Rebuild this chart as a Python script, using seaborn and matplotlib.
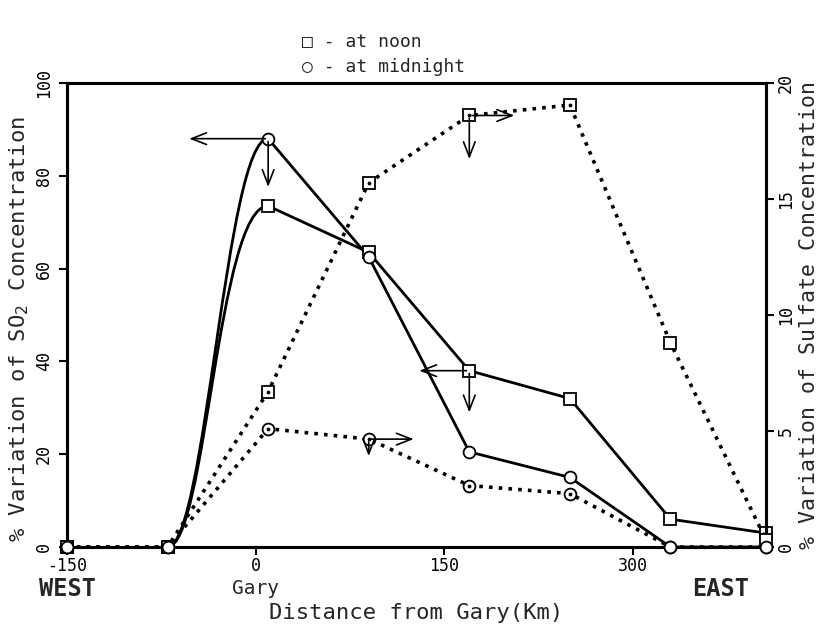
import numpy as np
import pandas as pd
import seaborn as sns
import matplotlib
matplotlib.use("Agg")
import matplotlib.pyplot as plt
from matplotlib.path import Path
from matplotlib.patches import PathPatch

# ---- data ----
distance = [-150, -70, 10, 90, 170, 250, 330, 406]
so2_noon = [0, 0, 73.5, 63.5, 38, 32, 6, 3]
so2_midnight = [0, 0, 88, 62.5, 20.5, 15, 0, 0]
sulfate_noon = [0, 0, 6.7, 15.7, 18.6, 19.05, 8.8, 0.3]
sulfate_midnight = [0, 0, 5.1, 4.65, 2.65, 2.3, 0, 0]

x_ticks = [-150, 0, 150, 300]
left_ticks = [0, 20, 40, 60, 80, 100]
right_ticks = [0, 5, 10, 15, 20]
region_labels = [("WEST", -150), ("Gary", 0), ("EAST", 370)]

sns.set_theme(style="ticks")
plt.rcParams["font.family"] = ["DejaVu Sans Mono", "DejaVu Sans"]
MONO = ["DejaVu Sans Mono", "DejaVu Sans"]

W, H = 822, 633
fig = plt.figure(figsize=(W / 100, H / 100), dpi=100)
ax = fig.add_axes([67 / W, 1 - 547 / H, (766 - 67) / W, (547 - 83) / H])
ax2 = ax.twinx()

ax.set_xlim(-150, 406)
ax.set_ylim(0, 100)
ax2.set_ylim(0, 20)

def bezier_rise(axis, xs, ys, ls, lw, b):
    x0, x1 = xs[1], xs[2]
    y0, y1 = ys[1], ys[2]
    dx = x1 - x0
    verts = [(x0, y0), (x0 + 0.38 * dx, y0), (x0 + b * dx, y1), (x1, y1)]
    codes = [Path.MOVETO, Path.CURVE4, Path.CURVE4, Path.CURVE4]
    patch = PathPatch(Path(verts, codes), facecolor="none", edgecolor="black",
                      lw=lw, linestyle=ls, clip_on=False, capstyle="round")
    axis.add_patch(patch)

def draw_series(axis, ys, marker, ls, lw, curve_b=None):
    df = pd.DataFrame({"x": distance, "y": ys})
    if curve_b is not None:
        parts = [df.iloc[0:2], df.iloc[2:]]
        bezier_rise(axis, distance, ys, ls, lw, curve_b)
    else:
        parts = [df]
    for part in parts:
        sns.lineplot(data=part, x="x", y="y", ax=axis, color="black",
                     linestyle=ls, linewidth=lw, sort=False, estimator=None,
                     clip_on=False)
    sns.lineplot(data=df, x="x", y="y", ax=axis, color="black", linestyle="",
                 marker=marker, markersize=8.5, markerfacecolor="white",
                 markeredgecolor="black", markeredgewidth=1.3,
                 sort=False, estimator=None, clip_on=False, zorder=5)

dot = (0, (1, 1.7))
draw_series(ax, so2_noon, "s", "-", 2.0, 0.5)
draw_series(ax, so2_midnight, "o", "-", 2.0, 0.58)
draw_series(ax2, sulfate_noon, "s", dot, 2.6)
draw_series(ax2, sulfate_midnight, "o", dot, 2.6)

# centre dots on the sulfate markers
for ys in (sulfate_noon, sulfate_midnight):
    sns.lineplot(x=distance[2:6], y=ys[2:6], ax=ax2, color="black", linestyle="",
                 marker="o", markersize=2, markeredgecolor="black",
                 estimator=None, sort=False, zorder=6)

# arrows showing which axis each curve belongs to
arrow_kw = dict(arrowstyle="->,head_length=0.9,head_width=0.35", color="black", lw=1.2)
def axis_arrows(axis, xp, yp, x_end, y_end):
    axis.annotate("", xy=(x_end, yp), xytext=(xp, yp), arrowprops=arrow_kw, zorder=7)
    axis.annotate("", xy=(xp, y_end), xytext=(xp, yp), arrowprops=arrow_kw, zorder=7)

axis_arrows(ax, distance[2], so2_midnight[2], -55, 77)
axis_arrows(ax, distance[4], so2_noon[4], 128, 28.4)
axis_arrows(ax2, distance[4], sulfate_noon[4], 208, 16.6)
axis_arrows(ax2, distance[3], sulfate_midnight[3], 128, 3.8)

# ticks and spines
for a in (ax, ax2):
    for s in a.spines.values():
        s.set_linewidth(2.2)
        s.set_color("black")
ax.set_xticks(x_ticks)
ax.set_xticklabels([str(t) for t in x_ticks], fontsize=12, family=MONO)
ax.set_yticks(left_ticks)
ax.set_yticklabels([str(t) for t in left_ticks], fontsize=12, rotation=90,
                   va="center", family=MONO)
ax2.set_yticks(right_ticks)
ax2.set_yticklabels([str(t) for t in right_ticks], fontsize=12, rotation=90,
                    va="center", family=MONO)
ax.tick_params(axis="x", direction="out", length=6, width=1.5, colors="black", pad=1)
ax.tick_params(axis="y", direction="out", length=6, width=1.5, colors="black", pad=4)
ax2.tick_params(axis="y", direction="out", length=6, width=1.5, colors="black", pad=2)

ax.set_xlabel("")
ax.set_ylabel("% Variation of SO$_2$ Concentration", fontsize=16, family=MONO)
ax2.set_ylabel("% Variation of Sulfate Concentration", fontsize=15.5,
               rotation=90, family=MONO)
ax.yaxis.set_label_coords((19 - 67) / 699, 0.47)
ax2.yaxis.set_label_coords((809 - 67) / 699, 0.5)
for lab in (ax.yaxis.label, ax2.yaxis.label):
    lab.set_ha("center")
    lab.set_va("center")
ax.grid(False)
ax2.grid(False)

for lab, xv in region_labels:
    bold = lab != "Gary"
    ax.text(xv, -0.09, lab, transform=ax.get_xaxis_transform(), ha="center",
            va="center", fontsize=17 if bold else 14,
            fontweight="bold" if bold else "normal", family=MONO)
ax.text(0.5, -0.142, "Distance from Gary(Km)", transform=ax.transAxes,
        ha="center", va="center", fontsize=16, family=MONO)

fig.text(302 / W, 1 - 42 / H, "□ - at noon", fontsize=13, ha="left",
         va="center", family=MONO)
fig.text(302 / W, 1 - 67 / H, "○ - at midnight", fontsize=13, ha="left",
         va="center", family=MONO)

fig.savefig("out.png", dpi=100)
